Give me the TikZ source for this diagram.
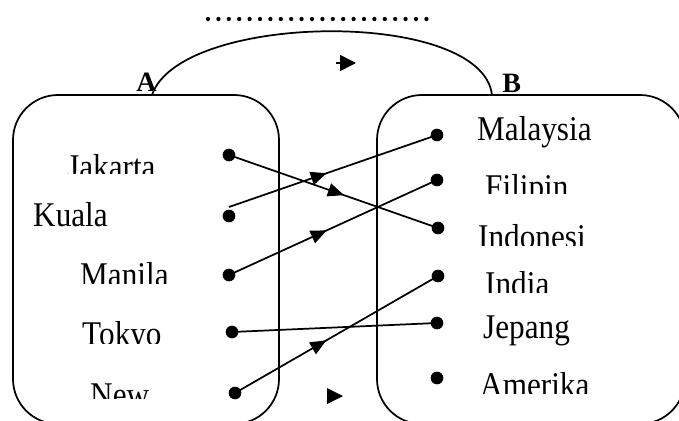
\documentclass[tikz,border=0pt]{standalone}
\usepackage{fontspec}
\setmainfont{Liberation Serif}
\usetikzlibrary{arrows.meta,decorations.markings}
\begin{document}
\begin{tikzpicture}[x=0.75pt,y=-0.75pt,
  setbox/.style={draw,line width=1.3pt,rounded corners=33.75pt},
  dotnode/.style={circle,fill,inner sep=0pt,minimum size=9.5pt},
  lbl/.style={anchor=base west,inner sep=0pt,xscale=0.9,transform shape,font=\fontsize{26}{30}\selectfont},
  setname/.style={anchor=base west,inner sep=0pt,font=\fontsize{21}{25}\selectfont\bfseries},
  conn/.style={line width=1.3pt},
  midarrow/.style={postaction={decorate},decoration={markings,mark=at position #1 with {\arrow{Triangle[length=12pt,width=10pt]}}}}
]
\useasboundingbox (0,0) rectangle (679,421);
\clip (0,0) rectangle (679,421);

% sets
\draw[setbox] (13,95) rectangle (279,424);
\draw[setbox] (377,95) rectangle (685,424);

% set names
\node[setname] (A) at (136,91) {A};
\node[setname] (B) at (502,92) {B};

% relation arc and its label line
\coordinate (aA) at (152,95);
\coordinate (aB) at (492,95);
\draw[conn] (aA) .. controls (180,12) and (482,8) .. (aB);
\coordinate (dl) at (208,19);
\coordinate (dr) at (436,19);
\draw[line width=3.2pt,line cap=round,dash pattern=on 0pt off 7.8pt] (dl) -- (dr);
\coordinate (ta) at (336,63);
\coordinate (tb) at (356,63);
\draw[conn,-{Triangle[length=12pt,width=12pt]}] (ta) -- (tb);

% labels of A
\begin{scope}\clip (0,0) rectangle (679,173);
\node[lbl] (jakarta) at (67,178) {Jakarta};\end{scope}
\node[lbl] (kuala) at (33,226) {Kuala};
\begin{scope}\clip (0,0) rectangle (679,283);
\node[lbl] (manila) at (80,286) {Manila};\end{scope}
\begin{scope}\clip (0,0) rectangle (679,343);
\node[lbl] (tokyo) at (82,345) {Tokyo};\end{scope}
\begin{scope}\clip (0,0) rectangle (679,398);
\node[lbl] (new) at (90,406) {New};\end{scope}

% labels of B
\node[lbl] (malaysia) at (477,140) {Malaysia};
\begin{scope}\clip (0,0) rectangle (679,193);
\node[lbl] (filipin) at (485,198) {Filipin};\end{scope}
\begin{scope}\clip (0,0) rectangle (679,245);
\node[lbl] (indonesi) at (478,248) {Indonesi};\end{scope}
\begin{scope}\clip (0,0) rectangle (679,292);
\node[lbl] (india) at (485,295) {India};\end{scope}
\node[lbl] (jepang) at (483,338) {Jepang};
\begin{scope}\clip (0,0) rectangle (679,393);
\node[lbl] (amerika) at (480,396) {Amerika};\end{scope}

% dots
\node[dotnode] (dj) at (229,155) {};
\node[dotnode] (dk) at (229,216) {};
\node[dotnode] (dm) at (229,275) {};
\node[dotnode] (dt) at (232,332) {};
\node[dotnode] (dn) at (235,393) {};
\node[dotnode] (dmy) at (437,135) {};
\node[dotnode] (df) at (437,180) {};
\node[dotnode] (di) at (438,228) {};
\node[dotnode] (din) at (438,276) {};
\node[dotnode] (dje) at (437,323) {};
\node[dotnode] (da) at (437,378) {};
\coordinate (kstart) at (229,207);

% connectors
\draw[conn,midarrow=0.55] (dj.center) -- (di.center);
\draw[conn,midarrow=0.47] (kstart) -- (dmy.center);
\draw[conn,midarrow=0.47] (dm.center) -- (df.center);
\draw[conn] (dt.center) -- (dje.center);
\draw[conn,midarrow=0.45] (dn.center) -- (din.center);

% free arrow tip
\fill (343,396) -- (327,388) -- (327,404) -- cycle;
\end{tikzpicture}
\end{document}
